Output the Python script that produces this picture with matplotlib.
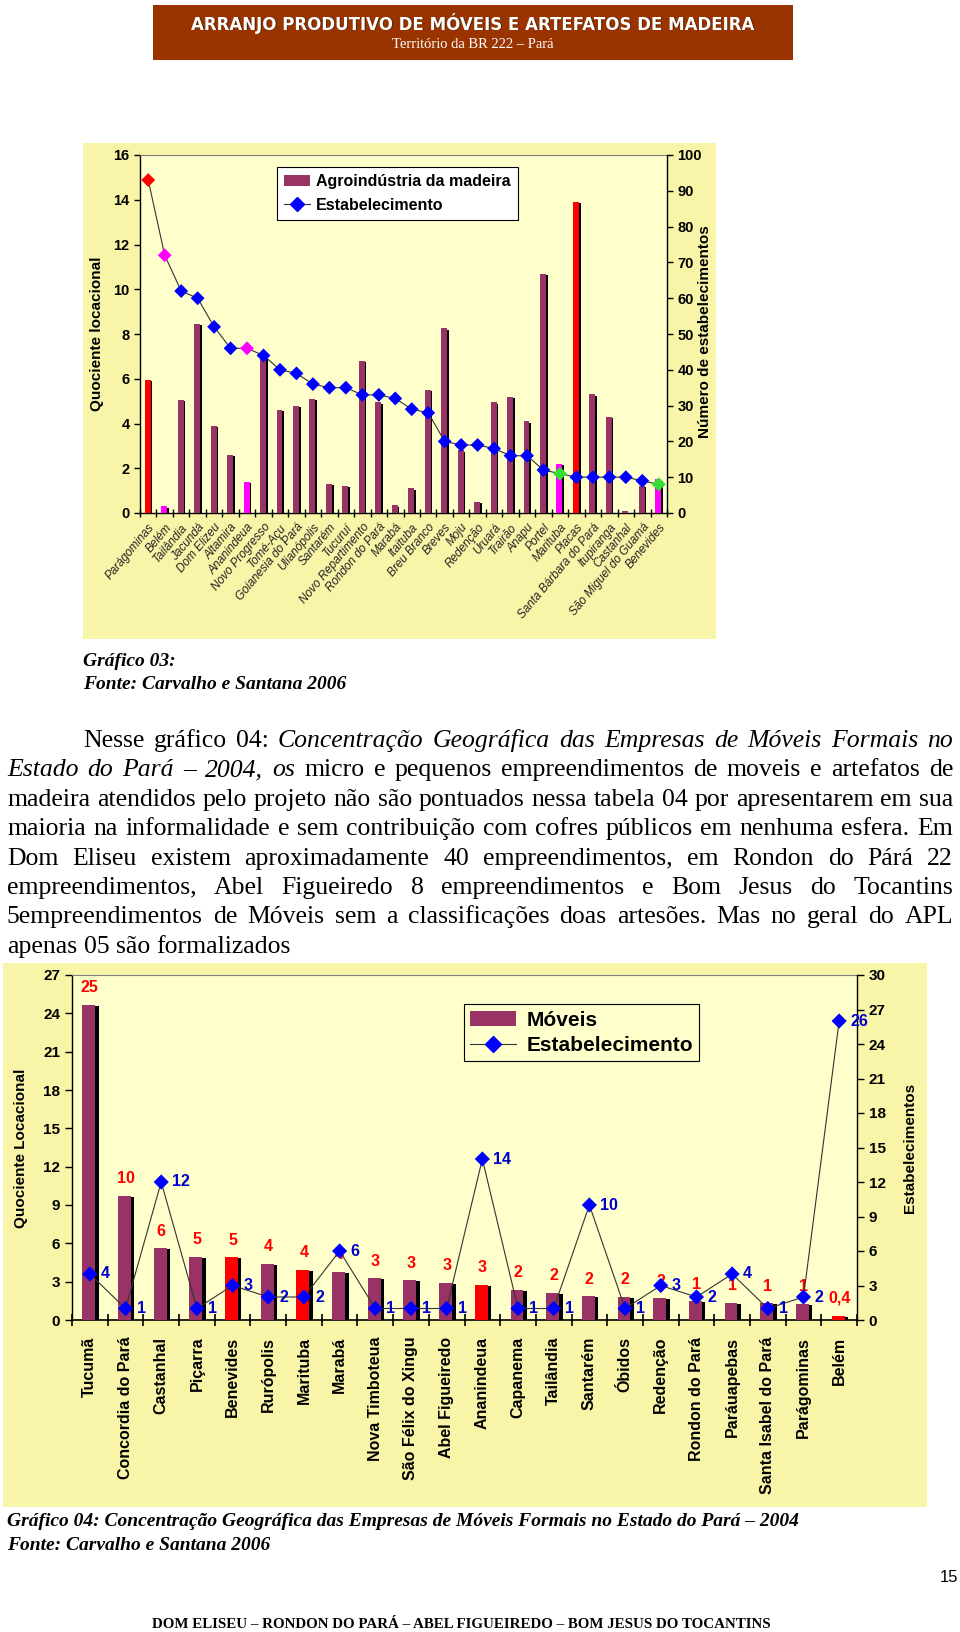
import matplotlib
matplotlib.use("Agg")
import matplotlib.pyplot as plt
from matplotlib.patches import Rectangle
from matplotlib.lines import Line2D
from matplotlib.font_manager import FontProperties
import numpy as np

W, H = 960, 1632

# Gráfico 03 - agroindústria da madeira
cidades_03 = ["Parágominas", "Belém", "Tailândia", "Jacundá", "Dom Elizeu", "Altamira",
              "Ananindeua", "Novo Progresso", "Tomé-Açu", "Goianesia do Pará", "Ulianópolis",
              "Santarém", "Tucuruí", "Novo Repartimento", "Rondon do Pará", "Marabá",
              "Itaituba", "Breu Branco", "Breves", "Moju", "Redenção", "Uruará", "Trairão",
              "Anapu", "Portel", "Marituba", "Placas", "Santa Bárbara do Pará", "Itupiranga",
              "Castanhal", "São Miguel do Guamá", "Benevides"]
quociente_03 = [5.95, 0.3, 5.05, 8.45, 3.9, 2.6, 1.4, 7.0, 4.6, 4.8, 5.1, 1.3, 1.2, 6.8,
                4.95, 0.35, 1.1, 5.5, 8.25, 2.8, 0.5, 4.95, 5.2, 4.1, 10.7, 2.2, 13.9, 5.3,
                4.3, 0.08, 1.2, 1.5]
estab_03 = [93, 72, 62, 60, 52, 46, 46, 44, 40, 39, 36, 35, 35, 33, 33, 32, 29, 28, 20,
            19, 19, 18, 16, 16, 12, 11, 10, 10, 10, 10, 9, 8]
barras_vermelhas_03 = [0, 26]
barras_rosa_03 = [1, 6, 25, 31]
pontos_vermelhos_03 = [0]
pontos_rosa_03 = [1, 6]
pontos_verdes_03 = [25, 31]

# Gráfico 04 - móveis
cidades_04 = ["Tucumã", "Concordia do Pará", "Castanhal", "Piçarra", "Benevides",
              "Rurópolis", "Marituba", "Marabá", "Nova Timboteua", "São Félix do Xingu",
              "Abel Figueiredo", "Ananindeua", "Capanema", "Tailândia", "Santarém",
              "Óbidos", "Redenção", "Rondon do Pará", "Paráuapebas",
              "Santa Isabel do Pará", "Parágominas", "Belém"]
quociente_04 = [24.65, 9.7, 5.6, 4.95, 4.9, 4.4, 3.95, 3.75, 3.25, 3.1, 2.9, 2.75, 2.35,
                2.15, 1.85, 1.8, 1.7, 1.45, 1.35, 1.3, 1.25, 0.35]
rotulos_04 = ["25", "10", "6", "5", "5", "4", "4", "4", "3", "3", "3", "3", "2", "2", "2",
              "2", "2", "1", "1", "1", "1", "0,4"]
estab_04 = [4, 1, 12, 1, 3, 2, 2, 6, 1, 1, 1, 14, 1, 1, 10, 1, 3, 2, 4, 1, 2, 26]
barras_vermelhas_04 = [4, 6, 11, 21]

MAROON = "#993366"
OUTER = "#f9f5a8"
INNER = "#ffffcc"
SANS = ["Liberation Sans", "DejaVu Sans"]
SERIF = ["Liberation Serif", "DejaVu Serif"]


def fy(y):
    return 1 - y / H


def px_rect(x0, y0, x1, y1):
    return [x0 / W, 1 - y1 / H, (x1 - x0) / W, (y1 - y0) / H]


def box(x0, y0, x1, y1, color):
    fig.add_artist(Rectangle((x0 / W, fy(y1)), (x1 - x0) / W, (y1 - y0) / H,
                             transform=fig.transFigure, facecolor=color,
                             edgecolor="none", zorder=0))


fig = plt.figure(figsize=(9.6, 16.32), dpi=100)
fig.patch.set_facecolor("white")

# header banner
box(153, 5, 793, 60, "#993300")
titulo = "ARRANJO PRODUTIVO DE MÓVEIS E ARTEFATOS DE MADEIRA"
fig.text(474 / W, fy(24), titulo, color="#552200", fontsize=12, weight="bold",
         family="DejaVu Sans", ha="center", va="center")
fig.text(473 / W, fy(23), titulo, color="white", fontsize=12, weight="bold",
         family="DejaVu Sans", ha="center", va="center")
fig.text(473 / W, fy(45), "Território da BR 222 – Pará", color="white", fontsize=10.5,
         family=SERIF, ha="center", va="center")

# ---------------- Gráfico 03 ----------------
box(83, 143, 716, 639, OUTER)
ax1 = fig.add_axes(px_rect(140, 155, 667, 513))
ax1.set_facecolor(INNER)
x1 = np.arange(len(cidades_03))
cores_03 = [MAROON] * len(x1)
for i in barras_vermelhas_03:
    cores_03[i] = "#ff0000"
for i in barras_rosa_03:
    cores_03[i] = "#ff00ff"
ax1.bar(x1 + 0.07, np.array(quociente_03) - 0.06, width=0.36, color="black", zorder=2)
ax1.bar(x1 - 0.03, quociente_03, width=0.36, color=cores_03, zorder=3)
ax1.set_xlim(-0.5, len(x1) - 0.5)
ax1.set_ylim(0, 16)
ax1.set_yticks(np.arange(0, 17, 2))
ax1.set_xticks(x1)
ax1.set_xticklabels(cidades_03, rotation=50, ha="right", va="top",
                    rotation_mode="anchor", fontsize=8.5, style="italic",
                    color="#222222", family=SANS)
ax1.set_xticks(np.arange(-0.5, len(x1), 1), minor=True)
ax1.tick_params(axis="x", which="major", length=0, pad=6)
ax1.tick_params(axis="x", which="minor", direction="inout", length=6, width=1)
ax1.tick_params(axis="y", direction="out", length=4, width=1, labelsize=10.5)
for lab in ax1.get_yticklabels():
    lab.set_fontweight("bold")
    lab.set_family(SANS)
ax1.spines["top"].set_color("#808080")
ax1.spines["right"].set_visible(False)
ax1.spines["left"].set_linewidth(1)
ax1.spines["bottom"].set_linewidth(1)

ax1r = ax1.twinx()
ax1r.plot(x1, estab_03, color="#333333", lw=0.8, zorder=4)
cores_p03 = ["#0000ff"] * len(x1)
for i in pontos_vermelhos_03:
    cores_p03[i] = "#ff0000"
for i in pontos_rosa_03:
    cores_p03[i] = "#ff00ff"
for i in pontos_verdes_03:
    cores_p03[i] = "#33dd33"
ax1r.scatter(x1, estab_03, marker="D", s=50, c=cores_p03, edgecolors="none", zorder=5)
ax1r.set_ylim(0, 100)
ax1r.set_yticks(np.arange(0, 101, 10))
ax1r.tick_params(axis="y", direction="out", length=4, width=1, labelsize=10.5)
for lab in ax1r.get_yticklabels():
    lab.set_fontweight("bold")
    lab.set_family(SANS)
for s in ("left", "top", "bottom"):
    ax1r.spines[s].set_visible(False)
ax1r.spines["right"].set_linewidth(1)

fig.text(97 / W, fy(334), "Quociente locacional", rotation=90, fontsize=11,
         weight="bold", family=SANS, ha="center", va="center")
fig.text(705 / W, fy(332), "Número de estabelecimentos", rotation=90, fontsize=11,
         weight="bold", family=SANS, ha="center", va="center")

h1 = [Rectangle((0, 0), 1, 1, facecolor=MAROON),
      Line2D([], [], color="#333333", lw=0.8, marker="D", ms=7,
             markerfacecolor="#0000ff", markeredgecolor="#0000ff")]
leg1 = ax1r.legend(h1, ["Agroindústria da madeira", "Estabelecimento"],
                   loc="upper left", bbox_to_anchor=(0.245, 0.99), fancybox=False,
                   edgecolor="black", framealpha=1, handlelength=1.6,
                   borderpad=0.45, labelspacing=0.55, handletextpad=0.4,
                   prop=FontProperties(family=SANS, weight="bold", size=11.5))
leg1.get_frame().set_linewidth(0.8)

# captions + paragraph
cap_font = dict(family=SERIF, style="italic", weight="bold", fontsize=14, va="center")
fig.text(83 / W, fy(661), "Gráfico 03:", **cap_font)
fig.text(83 / W, fy(684), "Fonte: Carvalho e Santana 2006", **cap_font)

renderer = fig.canvas.get_renderer()

texto = [
    [("Nesse gráfico 04:", "normal"),
     ("Concentração Geográfica das Empresas de Móveis Formais no", "italic")],
    [("Estado do Pará – 2004, os", "italic"),
     ("micro e pequenos empreendimentos de moveis e artefatos de", "normal")],
    [("madeira atendidos pelo projeto não são pontuados nessa tabela 04 por apresentarem em sua", "normal")],
    [("maioria na informalidade e sem contribuição com cofres públicos em nenhuma esfera. Em", "normal")],
    [("Dom Eliseu existem aproximadamente 40 empreendimentos, em Rondon do Párá 22", "normal")],
    [("empreendimentos, Abel Figueiredo 8 empreendimentos e Bom Jesus do Tocantins", "normal")],
    [("5empreendimentos de Móveis sem a classificações doas artesões. Mas no geral do APL", "normal")],
    [("apenas 05 são formalizados", "normal")],
]


def largura(txt, prop):
    return renderer.get_text_width_height_descent(txt, prop, ismath=False)[0]


def palavras_de(pedacos):
    out = []
    for txt, estilo in pedacos:
        for p in txt.split():
            out.append((p, estilo))
    return out


def fontes(size):
    return {s: FontProperties(family=SERIF, style=s, size=size) for s in ("normal", "italic")}


# pick the biggest body size where every justified line still fits
corpo = 18.5
while corpo > 13:
    props = fontes(corpo)
    espaco = largura("a a", props["normal"]) - largura("aa", props["normal"])
    ok = True
    for k, pedacos in enumerate(texto[:-1]):
        pal = palavras_de(pedacos)
        total = sum(largura(p, props[e]) for p, e in pal) + 0.7 * espaco * (len(pal) - 1)
        if total > 953 - (83 if k == 0 else 7):
            ok = False
            break
    if ok:
        break
    corpo -= 0.25
props = fontes(corpo)


def linha(pedacos, x0, x1, base, justificar=True):
    pal = palavras_de(pedacos)
    larg = [largura(p, props[e]) for p, e in pal]
    if justificar and len(pal) > 1:
        gap = (x1 - x0 - sum(larg)) / (len(pal) - 1)
    else:
        gap = largura("a a", props["normal"]) - largura("aa", props["normal"])
    x = x0
    for (p, e), lw in zip(pal, larg):
        fig.text(x / W, fy(base), p, fontproperties=props[e], va="baseline", ha="left")
        x += lw + gap


for k, pedacos in enumerate(texto):
    base = 747 + 29.4 * k
    x0 = 83 if k == 0 else 7
    linha(pedacos, x0, 953, base, justificar=(k < len(texto) - 1))

# ---------------- Gráfico 04 ----------------
box(3, 963, 927, 1507, OUTER)
ax2 = fig.add_axes(px_rect(72, 975, 857, 1320))
ax2.set_facecolor(INNER)
x2 = np.arange(len(cidades_04))
cores_04 = [MAROON] * len(x2)
for i in barras_vermelhas_04:
    cores_04[i] = "#ff0000"
ax2.bar(x2 + 0.07, np.array(quociente_04) - 0.08, width=0.36, color="black", zorder=2)
ax2.bar(x2 - 0.03, quociente_04, width=0.36, color=cores_04, zorder=3)
for i, (q, r) in enumerate(zip(quociente_04, rotulos_04)):
    ax2.annotate(r, (i, q), xytext=(0, 7), textcoords="offset points", ha="center",
                 va="bottom", color="#ff0000", fontsize=11.5, weight="bold",
                 family=SANS, zorder=6)
ax2.set_xlim(-0.5, len(x2) - 0.5)
ax2.set_ylim(0, 27)
ax2.set_yticks(np.arange(0, 28, 3))
ax2.set_xticks(x2)
ax2.set_xticklabels(cidades_04, rotation=90, ha="center", va="top", fontsize=11.5,
                    weight="bold", family=SANS)
ax2.set_xticks(np.arange(-0.5, len(x2), 1), minor=True)
ax2.tick_params(axis="x", which="major", length=0, pad=12)
ax2.tick_params(axis="x", which="minor", direction="inout", length=9, width=1.2)
ax2.tick_params(axis="y", direction="out", length=5, width=1, labelsize=11)
for lab in ax2.get_yticklabels():
    lab.set_fontweight("bold")
    lab.set_family(SANS)
ax2.spines["top"].set_color("#808080")
ax2.spines["right"].set_visible(False)
ax2.spines["left"].set_linewidth(1)
ax2.spines["bottom"].set_linewidth(1.2)

ax2r = ax2.twinx()
ax2r.plot(x2, estab_04, color="#333333", lw=0.8, zorder=4)
ax2r.scatter(x2, estab_04, marker="D", s=60, c="#0000ff", edgecolors="none", zorder=5)
for i, e in enumerate(estab_04):
    ax2r.annotate(str(e), (i, e), xytext=(8, 0), textcoords="offset points", ha="left",
                  va="center", color="#0000cc", fontsize=11.5, weight="bold",
                  family=SANS, zorder=6)
ax2r.set_ylim(0, 30)
ax2r.set_yticks(np.arange(0, 31, 3))
ax2r.tick_params(axis="y", direction="out", length=5, width=1, labelsize=11)
for lab in ax2r.get_yticklabels():
    lab.set_fontweight("bold")
    lab.set_family(SANS)
for s in ("left", "top", "bottom"):
    ax2r.spines[s].set_visible(False)
ax2r.spines["right"].set_linewidth(1)

fig.text(21 / W, fy(1148), "Quociente Locacional", rotation=90, fontsize=11,
         weight="bold", family=SANS, ha="center", va="center")
fig.text(910 / W, fy(1148), "Estabelecimentos", rotation=90, fontsize=11,
         weight="bold", family=SANS, ha="center", va="center")

h2 = [Rectangle((0, 0), 1, 1, facecolor=MAROON),
      Line2D([], [], color="#333333", lw=0.8, marker="D", ms=8,
             markerfacecolor="#0000ff", markeredgecolor="#0000ff")]
leg2 = ax2r.legend(h2, ["Móveis", "Estabelecimento"], loc="upper left",
                   bbox_to_anchor=(0.486, 0.945), fancybox=False, edgecolor="black",
                   framealpha=1, facecolor=INNER, handlelength=2.2, borderpad=0.3,
                   labelspacing=0.3, handletextpad=0.5,
                   prop=FontProperties(family=SANS, weight="bold", size=15))
leg2.get_frame().set_linewidth(0.8)

fig.text(7 / W, fy(1522),
         "Gráfico 04: Concentração Geográfica das Empresas de Móveis Formais no Estado do Pará – 2004",
         **cap_font)
fig.text(7 / W, fy(1545), "Fonte: Carvalho e Santana 2006", **cap_font)

fig.text(949 / W, fy(1577), "15", fontsize=12, family=SANS, ha="center", va="center")
fig.text(461 / W, fy(1624),
         "DOM ELISEU – RONDON DO PARÁ – ABEL FIGUEIREDO – BOM JESUS DO TOCANTINS",
         fontsize=10.8, weight="bold", family=SERIF, ha="center", va="center")

fig.savefig("out.png", dpi=100)
